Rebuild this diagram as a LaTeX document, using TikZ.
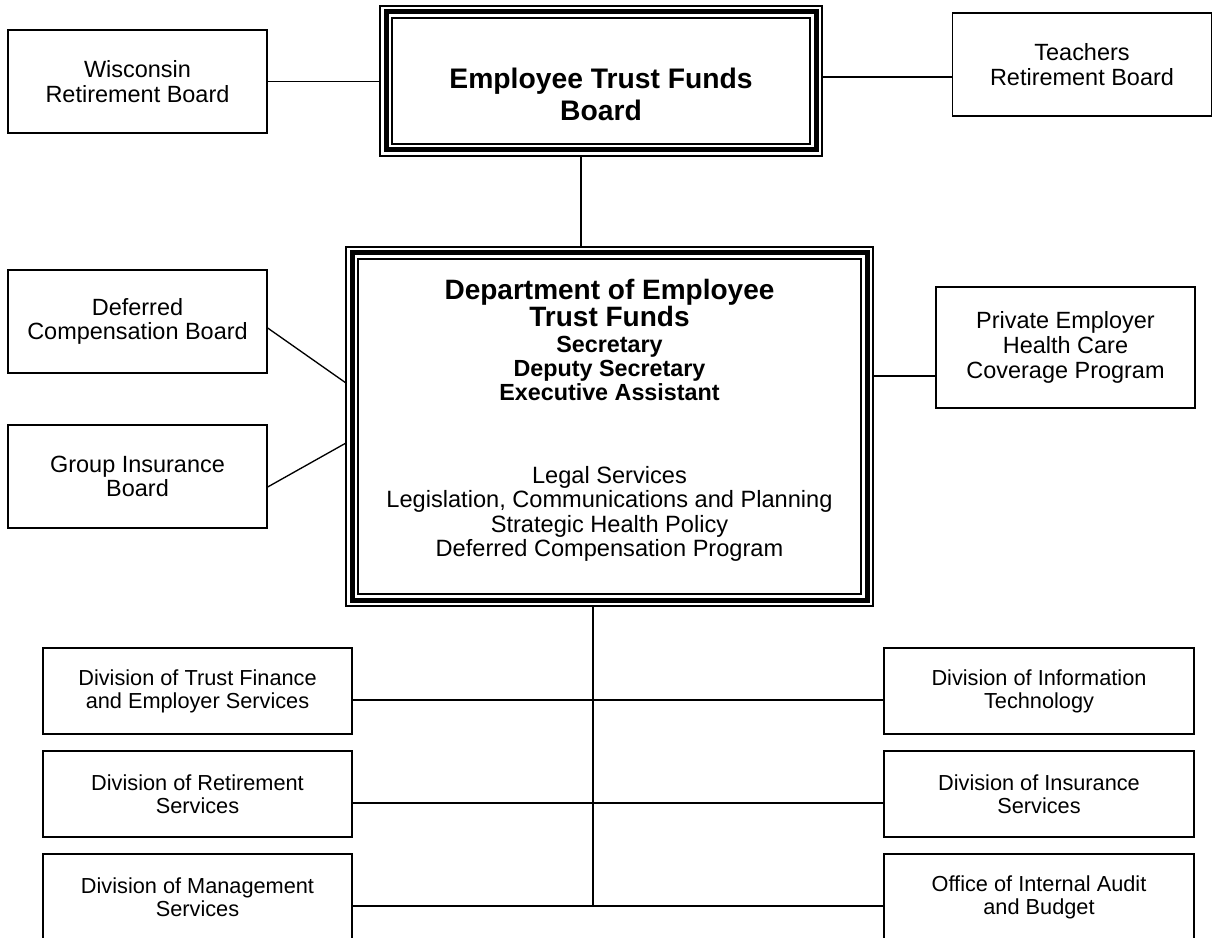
\documentclass[tikz,border=0pt]{standalone}
\usepackage{fontspec}
\setmainfont{Liberation Sans}
\newcommand*{\pxu}{0.75pt}

\begin{document}
\begin{tikzpicture}[x=0.75pt,y=-0.75pt,line width=1pt,
    box/.style={draw,line width=1pt,align=center,inner sep=0pt,
        font=\fontsize{16.3}{17.25}\selectfont},
    sidebox/.style={box,minimum width=259*\pxu,minimum height=103*\pxu,
        font=\fontsize{17.6}{18.5}\selectfont},
    divbox/.style={box,minimum width=309*\pxu,minimum height=86*\pxu},
    triframe/.style={draw,line width=3.75pt,outer sep=4.5pt,
        preaction={draw,line width=1pt,double,double distance=8pt}},
    ]
\useasboundingbox (0,0) rectangle (1215,938);
\clip (0,0) rectangle (1215,938);

% boards at the top
\node[triframe,minimum width=430*\pxu,minimum height=138*\pxu] (etfb) at (601,81) {};
\node[font=\fontsize{21.2}{24}\selectfont\bfseries,align=center] (etfbtext) at (601,94)
    {Employee Trust Funds\\Board};
\node[sidebox] (wrb) at (137.5,81.5) {Wisconsin\\Retirement Board};
\node[sidebox] (trb) at (1082,64.5) {Teachers\\Retirement Board};

% department
\node[triframe,minimum width=515*\pxu,minimum height=347*\pxu] (detf) at (609.5,426.5) {};
\node[align=center,font=\fontsize{21}{19.5}\selectfont\bfseries] (detfname) at (609.5,303)
    {Department of Employee\\Trust Funds};
\node[align=center,font=\fontsize{17.5}{18}\selectfont\bfseries] (detfhead) at (609.5,368)
    {Secretary\\Deputy Secretary\\Executive Assistant};
\node[align=center,font=\fontsize{17.7}{18.2}\selectfont] (detfprog) at (609.5,514)
    {Legal Services\\Legislation, Communications and Planning\\
     Strategic Health Policy\\Deferred Compensation Program};

\node[sidebox] (dcb) at (137.5,321.5) {Deferred\\Compensation Board};
\node[sidebox] (gib) at (137.5,476.5) {Group Insurance\\Board};
\node[sidebox,minimum height=121*\pxu] (pehc) at (1065.5,347.5)
    {Private Employer\\Health Care\\Coverage Program};

% divisions
\node[divbox] (dtfes) at (197.5,691) {Division of Trust Finance\\and Employer Services};
\node[divbox] (drs) at (197.5,794) {Division of Retirement\\Services};
\node[divbox] (dms) at (197.5,897) {Division of Management\\Services};
\node[divbox,minimum width=310*\pxu] (dit) at (1039,691) {Division of Information\\Technology};
\node[divbox,minimum width=310*\pxu] (dis) at (1039,794) {Division of Insurance\\Services};
\node[divbox,minimum width=310*\pxu] (oiab) at (1039,897) {Office of Internal Audit\\and Budget};

% connectors
\coordinate (topx) at (581,0);
\coordinate (botx) at (593,0);
\draw (wrb.east) -- (wrb.east -| etfb.west);
\draw ([yshift=-12.5*\pxu]trb.west) coordinate (tj) -- (tj -| etfb.east);
\draw (etfb.south -| topx) -- (detf.north -| topx);
\draw ([yshift=-6.5*\pxu]dcb.east) -- ([yshift=43.5*\pxu]detf.west);
\draw ([yshift=-10.5*\pxu]gib.east) -- ([yshift=-16.5*\pxu]detf.west);
\draw ([yshift=-28.5*\pxu]pehc.west) coordinate (pj) -- (pj -| detf.east);
\draw ([yshift=-9*\pxu]dtfes.east) coordinate (j1) -- (j1 -| dit.west);
\draw ([yshift=-9*\pxu]drs.east) coordinate (j2) -- (j2 -| dis.west);
\draw ([yshift=-9*\pxu]dms.east) coordinate (j3) -- (j3 -| oiab.west);
\draw (detf.south -| botx) -- (j3 -| botx);
\end{tikzpicture}
\end{document}
